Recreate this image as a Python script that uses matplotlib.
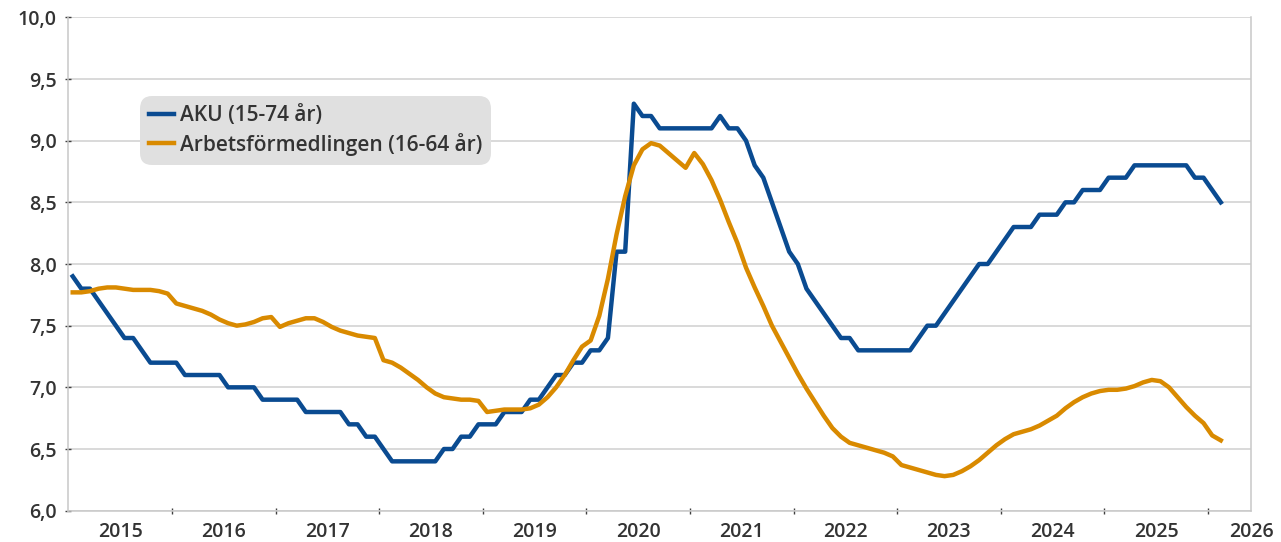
import numpy as np
import matplotlib.pyplot as plt
from matplotlib.ticker import FixedLocator, FuncFormatter

plt.rcParams['font.family'] = ['Open Sans', 'DejaVu Sans']
plt.rcParams['font.weight'] = 'semibold'

# Monthly unemployment, Jan 2015 - Feb 2026
aku = [7.9, 7.8, 7.8, 7.7, 7.6, 7.5, 7.4, 7.4, 7.3, 7.2, 7.2, 7.2,
       7.2, 7.1, 7.1, 7.1, 7.1, 7.1, 7.0, 7.0, 7.0, 7.0, 6.9, 6.9,
       6.9, 6.9, 6.9, 6.8, 6.8, 6.8, 6.8, 6.8, 6.7, 6.7, 6.6, 6.6,
       6.5, 6.4, 6.4, 6.4, 6.4, 6.4, 6.4, 6.5, 6.5, 6.6, 6.6, 6.7,
       6.7, 6.7, 6.8, 6.8, 6.8, 6.9, 6.9, 7.0, 7.1, 7.1, 7.2, 7.2,
       7.3, 7.3, 7.4, 8.1, 8.1, 9.3, 9.2, 9.2, 9.1, 9.1, 9.1, 9.1,
       9.1, 9.1, 9.1, 9.2, 9.1, 9.1, 9.0, 8.8, 8.7, 8.5, 8.3, 8.1,
       8.0, 7.8, 7.7, 7.6, 7.5, 7.4, 7.4, 7.3, 7.3, 7.3, 7.3, 7.3,
       7.3, 7.3, 7.4, 7.5, 7.5, 7.6, 7.7, 7.8, 7.9, 8.0, 8.0, 8.1,
       8.2, 8.3, 8.3, 8.3, 8.4, 8.4, 8.4, 8.5, 8.5, 8.6, 8.6, 8.6,
       8.7, 8.7, 8.7, 8.8, 8.8, 8.8, 8.8, 8.8, 8.8, 8.8, 8.7, 8.7,
       8.6, 8.5]

af = [7.77, 7.77, 7.78, 7.80, 7.81, 7.81, 7.80, 7.79, 7.79, 7.79, 7.78, 7.76,
      7.68, 7.66, 7.64, 7.62, 7.59, 7.55, 7.52, 7.50, 7.51, 7.53, 7.56, 7.57,
      7.49, 7.52, 7.54, 7.56, 7.56, 7.53, 7.49, 7.46, 7.44, 7.42, 7.41, 7.40,
      7.22, 7.20, 7.16, 7.11, 7.06, 7.00, 6.95, 6.92, 6.91, 6.90, 6.90, 6.89,
      6.80, 6.81, 6.82, 6.82, 6.82, 6.83, 6.86, 6.92, 7.00, 7.10, 7.22, 7.33,
      7.38, 7.58, 7.88, 8.24, 8.55, 8.80, 8.93, 8.98, 8.96, 8.90, 8.84, 8.78,
      8.90, 8.81, 8.68, 8.52, 8.34, 8.17, 7.97, 7.81, 7.66, 7.50, 7.37, 7.24,
      7.11, 6.99, 6.88, 6.77, 6.67, 6.60, 6.55, 6.53, 6.51, 6.49, 6.47, 6.44,
      6.37, 6.35, 6.33, 6.31, 6.29, 6.28, 6.29, 6.32, 6.36, 6.41, 6.47, 6.53,
      6.58, 6.62, 6.64, 6.66, 6.69, 6.73, 6.77, 6.83, 6.88, 6.92, 6.95, 6.97,
      6.98, 6.98, 6.99, 7.01, 7.04, 7.06, 7.05, 7.00, 6.92, 6.84, 6.77, 6.71,
      6.61, 6.57]

years = list(range(2015, 2027))
x = np.arange(len(aku)) + 0.5  # month centers

fig = plt.figure(figsize=(12.81, 5.42), dpi=100)
ax = fig.add_axes([0.0534, 0.0578, 0.9232, 0.9102])

ax.plot(x, aku, color='#0a4b91', lw=3.2, label='AKU (15-74 år)')
ax.plot(x, af, color='#d98a00', lw=3.2, label='Arbetsförmedlingen (16-64 år)')

ax.set_xlim(0, 137)
ax.set_ylim(6, 10)
ax.set_yticks(np.arange(6, 10.01, 0.5))
ax.yaxis.set_major_formatter(FuncFormatter(lambda v, p: f'{v:.1f}'.replace('.', ',')))
ax.grid(axis='y', color='#d0d0d0', lw=1.1)
ax.set_axisbelow(True)

# year boundaries as ticks, year names between them
ax.xaxis.set_major_locator(FixedLocator(np.arange(12, 137, 12)))
ax.xaxis.set_minor_locator(FixedLocator([12 * i + 6 for i in range(11)] + [137]))
ax.set_xticklabels([], minor=False)
ax.set_xticklabels([str(y) for y in years], minor=True)
ax.tick_params(axis='x', which='major', direction='inout', length=5, width=1, color='#404040')
ax.tick_params(axis='x', which='minor', length=0, pad=8, labelsize=14, labelcolor='#333333')
ax.tick_params(axis='y', direction='inout', length=5, width=1, color='#404040',
               pad=6, labelsize=14, labelcolor='#333333')

for s in ['left', 'bottom', 'right']:
    ax.spines[s].set_color('#c8c8c8')
    ax.spines[s].set_linewidth(1.1)
ax.spines['top'].set_visible(False)

leg = ax.legend(loc='upper left', bbox_to_anchor=(0.064, 0.832), borderaxespad=0,
                fontsize=15, frameon=True, fancybox=True, facecolor='#e0e0e0',
                edgecolor='none', framealpha=1, handlelength=1.2, handletextpad=0.25,
                labelspacing=0.3, borderpad=0.25, labelcolor='#333333')
leg.get_frame().set_boxstyle('round,pad=0.2,rounding_size=0.6')

fig.savefig('out.png', dpi=100)
